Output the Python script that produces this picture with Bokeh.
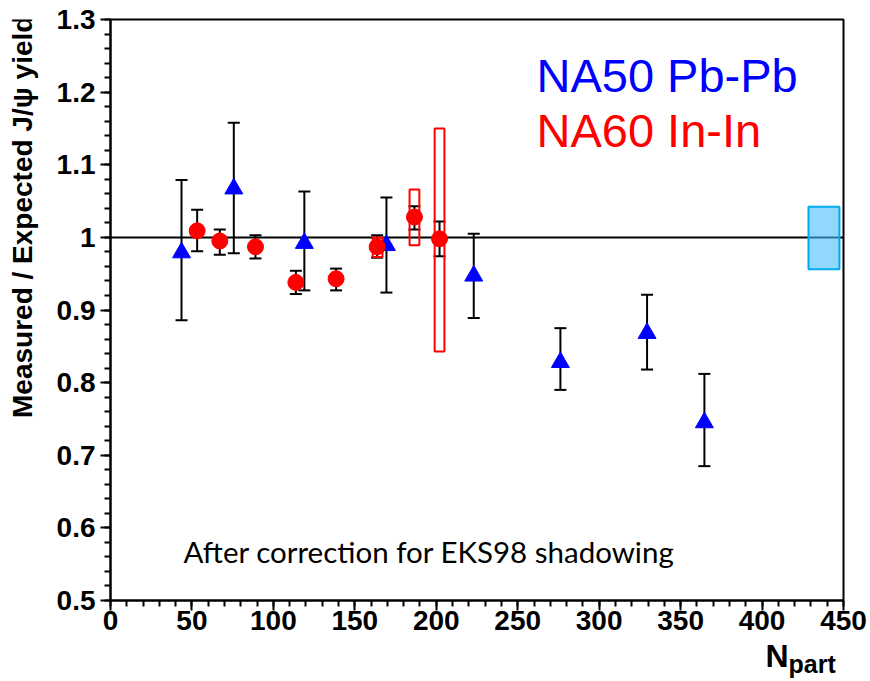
import math
from bokeh.plotting import figure
from bokeh.layouts import column, row
from bokeh.models import (ColumnDataSource, Whisker, TeeHead, Span, Label,
                          FixedTicker, PrintfTickFormatter, Range1d)
from bokeh.core.properties import value
from bokeh.embed import file_html
from bokeh.resources import INLINE

# NA50 Pb-Pb
na50_npart = [43.6, 75.7, 119.0, 169.4, 223.0, 276.2, 329.4, 364.6]
na50_ratio = [0.979, 1.067, 0.992, 0.989, 0.947, 0.828, 0.868, 0.745]
na50_err_lo = [0.886, 0.978, 0.927, 0.924, 0.889, 0.790, 0.818, 0.685]
na50_err_hi = [1.079, 1.158, 1.063, 1.055, 1.005, 0.875, 0.921, 0.812]

# NA60 In-In
na60_npart = [53.2, 67.1, 89.0, 113.8, 138.5, 163.7, 186.6, 202.0]
na60_ratio = [1.009, 0.995, 0.987, 0.938, 0.943, 0.987, 1.028, 0.998]
na60_err_lo = [0.981, 0.976, 0.971, 0.922, 0.927, 0.972, 1.011, 0.974]
na60_err_hi = [1.038, 1.011, 1.003, 0.954, 0.957, 1.003, 1.043, 1.022]

# NA60 systematic uncertainty boxes
na60_sys_npart = [164.0, 186.6, 202.0]
na60_sys_lo = [0.973, 0.989, 0.843]
na60_sys_hi = [1.000, 1.066, 1.150]
na60_sys_halfwidth = 3.0

# global normalisation uncertainty box
norm_npart = [438.0]
norm_lo = [0.956]
norm_hi = [1.042]
norm_halfwidth = 9.5

# axis ticks
x_ticks = [0, 50, 100, 150, 200, 250, 300, 350, 400, 450]
x_minor = [v for v in range(0, 451, 10)]
y_ticks = [0.5, 0.6, 0.7, 0.8, 0.9, 1.0, 1.1, 1.2, 1.3]
y_minor = [round(0.5 + 0.02 * i, 2) for i in range(41)]

y_title = "Measured / Expected J/\u03c8 yield"

# ---- main plot -------------------------------------------------------
p = figure(width=830, height=643, x_range=Range1d(0, 450), y_range=Range1d(0.5, 1.3),
           output_backend="svg", toolbar_location=None,
           min_border_left=70, min_border_right=27, min_border_top=19, min_border_bottom=43)
p.xgrid.visible = False
p.ygrid.visible = False
p.outline_line_color = "black"
p.outline_line_width = 2
p.outline_line_alpha = 1.0
p.background_fill_color = "white"
p.border_fill_color = "white"

p.xaxis.ticker = FixedTicker(ticks=x_ticks, minor_ticks=x_minor)
p.yaxis.ticker = FixedTicker(ticks=y_ticks, minor_ticks=y_minor)
p.yaxis.formatter = PrintfTickFormatter(format="%g")
for ax in (p.xaxis[0], p.yaxis[0]):
    ax.axis_line_width = 2
    ax.axis_line_color = "black"
    ax.major_tick_line_width = 2
    ax.minor_tick_line_width = 2
    ax.major_tick_line_color = "black"
    ax.minor_tick_line_color = "black"
    ax.major_tick_out = 10
    ax.major_tick_in = 0
    ax.minor_tick_out = 6
    ax.minor_tick_in = 0
    ax.major_label_text_font = "Liberation Sans"
    ax.major_label_text_font_style = "bold"
    ax.major_label_text_font_size = "28px"
    ax.major_label_text_color = "black"
p.xaxis.major_label_standoff = 0
p.yaxis.major_label_standoff = 5

# reference line at 1
p.add_layout(Span(location=1.0, dimension="width", line_color="black",
                  line_width=2, level="underlay"))

# normalisation box
p.quad(left=[v - norm_halfwidth for v in norm_npart],
       right=[v + norm_halfwidth for v in norm_npart],
       bottom=norm_lo, top=norm_hi,
       fill_color="#48BEFD", fill_alpha=0.6, line_color="#00AAF0", line_width=2)

# NA60 systematic boxes
p.quad(left=[v - na60_sys_halfwidth for v in na60_sys_npart],
       right=[v + na60_sys_halfwidth for v in na60_sys_npart],
       bottom=na60_sys_lo, top=na60_sys_hi,
       fill_color=None, line_color="#FF0000", line_width=2)

# error bars
src50 = ColumnDataSource(dict(x=na50_npart, y=na50_ratio, lo=na50_err_lo, hi=na50_err_hi))
src60 = ColumnDataSource(dict(x=na60_npart, y=na60_ratio, lo=na60_err_lo, hi=na60_err_hi))
for src in (src50, src60):
    p.add_layout(Whisker(source=src, base="x", upper="hi", lower="lo", dimension="height",
                         line_color="black", line_width=2, level="underlay",
                         upper_head=TeeHead(size=12, line_width=2, line_color="black"),
                         lower_head=TeeHead(size=12, line_width=2, line_color="black")))

p.scatter("x", "y", source=src50, marker="triangle", size=18,
          fill_color="#0000FF", line_color="#0000FF")
p.scatter("x", "y", source=src60, marker="circle", size=16,
          fill_color="#FF0000", line_color="#FF0000")

# legend-like texts
p.add_layout(Label(x=261.5, y=1.223, text="NA50 Pb-Pb", text_font="Liberation Sans",
                   text_font_size="47px", text_color="#0000FF", text_baseline="alphabetic"))
p.add_layout(Label(x=261.5, y=1.147, text="NA60 In-In", text_font="Liberation Sans",
                   text_font_size="47px", text_color="#FF0000", text_baseline="alphabetic"))
p.add_layout(Label(x=44.8, y=0.567, text="After correction for EKS98 shadowing",
                   text_font="Lato", text_font_size="29.5px", text_color="black",
                   text_baseline="alphabetic"))

# ---- strip left of the plot carrying the y-axis title ----------------
p3 = figure(width=40, height=643, x_range=Range1d(0, 40), y_range=Range1d(0, 643),
            output_backend="svg", toolbar_location=None,
            x_axis_type=None, y_axis_type=None,
            min_border_left=0, min_border_right=0, min_border_top=0, min_border_bottom=0)
p3.outline_line_color = None
p3.background_fill_color = "white"
p3.border_fill_color = "white"
p3.text(x=[22], y=[202], text=[y_title], angle=math.pi / 2,
        text_font=value("Liberation Sans"), text_font_style="bold",
        text_font_size="28px", text_color="black",
        text_baseline="alphabetic", text_align="left")

# ---- strip below the plot carrying the x-axis title N_part -----------
p2 = figure(width=870, height=38, x_range=Range1d(0, 733), y_range=Range1d(0, 38),
            output_backend="svg", toolbar_location=None,
            x_axis_type=None, y_axis_type=None,
            min_border_left=110, min_border_right=27, min_border_top=0, min_border_bottom=0)
p2.outline_line_color = None
p2.background_fill_color = "white"
p2.border_fill_color = "white"
p2.text(x=[655], y=[26], text=["N"], text_font=value("Liberation Sans"),
        text_font_style="bold", text_font_size="32px", text_color="black",
        text_baseline="alphabetic", text_align="left")
p2.text(x=[678], y=[18], text=["part"], text_font=value("Liberation Sans"),
        text_font_style="bold", text_font_size="25px", text_color="black",
        text_baseline="alphabetic", text_align="left")

layout = column(row(p3, p, spacing=0), p2, spacing=0)
open("out.html", "w").write(file_html(layout, INLINE))
